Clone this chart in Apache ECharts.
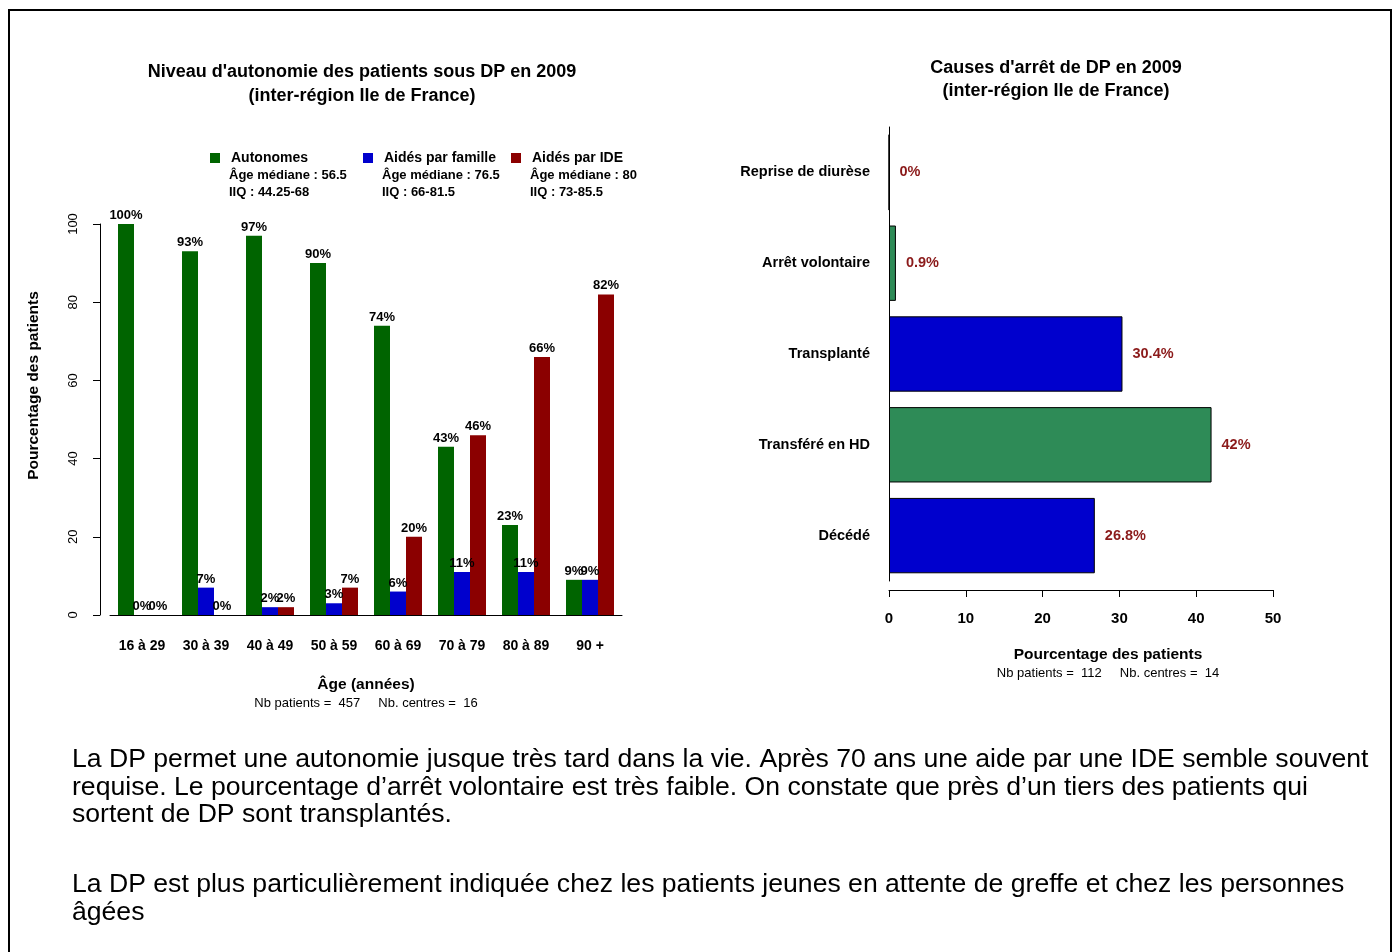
<!DOCTYPE html>
<html>
<head>
<meta charset="utf-8">
<script src="https://cdn.jsdelivr.net/npm/echarts@6/dist/echarts.min.js"></script>
<style>
  html, body { margin: 0; padding: 0; background: #fff; }
  #box { width: 1395px; height: 952px; }
</style>
</head>
<body>
<div id="box"></div>
<script>
// graphique de gauche : niveau d'autonomie par tranche d'age
var ages = ['16 à 29', '30 à 39', '40 à 49', '50 à 59', '60 à 69', '70 à 79', '80 à 89', '90 +'];
var autonomes = [100, 93, 97, 90, 74, 43, 23, 9];
var aidesFamille = [0, 7, 2, 3, 6, 11, 11, 9];
var aidesIDE = [0, 0, 2, 7, 20, 46, 66, 82];
var groupes = ['Autonomes', 'Aidés par famille', 'Aidés par IDE'];
var medianes = ['Âge médiane : 56.5', 'Âge médiane : 76.5', 'Âge médiane : 80'];
var iiq = ['IIQ : 44.25-68', 'IIQ : 66-81.5', 'IIQ : 73-85.5'];
var yTicksGauche = [0, 20, 40, 60, 80, 100];

// graphique de droite : causes d'arret (du bas vers le haut)
var causes = ['Décédé', 'Transféré en HD', 'Transplanté', 'Arrêt volontaire', 'Reprise de diurèse'];
var causesPct = [26.8, 42, 30.4, 0.9, 0];
var causesCouleurs = ['#0000CD', '#2E8B57', '#0000CD', '#2E8B57', '#0000CD'];
var xTicksDroite = [0, 10, 20, 30, 40, 50];

var texte1 = 'La DP permet une autonomie jusque très tard dans la vie. Après 70 ans une aide par une IDE semble souvent\n' +
    'requise. Le pourcentage d\u2019arrêt volontaire est très faible. On constate que près d\u2019un tiers des patients qui\n' +
    'sortent de DP sont transplantés.';
var texte2 = 'La DP est plus particulièrement indiquée chez les patients jeunes en attente de greffe et chez les personnes\n' +
    'âgées';

var couleurs = ['#006400', '#0000CD', '#8B0000'];
var police = '"Liberation Sans", Arial, Helvetica, sans-serif';

var myChart = echarts.init(document.getElementById('box'));

var legendes = [];
var sousLegendes = [];
var legendeX = [210, 363, 511];
groupes.forEach(function (g, i) {
    legendes.push({
        data: [g],
        left: legendeX[i],
        top: 151,
        padding: 0,
        icon: 'rect',
        itemWidth: 10,
        itemHeight: 10,
        textStyle: { fontFamily: police, fontWeight: 'bold', fontSize: 14, color: '#000', padding: [0, 0, 0, 6] },
        selectedMode: false
    });
    sousLegendes.push({
        text: medianes[i] + '\n' + iiq[i],
        left: legendeX[i] + 19,
        top: 167,
        padding: 0,
        textStyle: { fontFamily: police, fontWeight: 'bold', fontSize: 13, lineHeight: 17, color: '#000' }
    });
});

var labelBarre = {
    show: true,
    position: 'top',
    distance: 2,
    formatter: '{c}%',
    fontFamily: police,
    fontWeight: 'bold',
    fontSize: 13,
    color: '#000'
};

myChart.setOption({
    backgroundColor: '#fff',
    animation: false,
    color: couleurs,
    textStyle: { fontFamily: police },
    title: [{
            text: "Niveau d'autonomie des patients sous DP en 2009\n(inter-région Ile de France)",
            left: 362,
            top: 60,
            padding: 0,
            textAlign: 'center',
            textStyle: { fontFamily: police, fontWeight: 'bold', fontSize: 18, lineHeight: 24, color: '#000' }
        },
        {
            text: "Causes d'arrêt de DP en 2009\n(inter-région Ile de France)",
            left: 1056,
            top: 57,
            padding: 0,
            textAlign: 'center',
            textStyle: { fontFamily: police, fontWeight: 'bold', fontSize: 18, lineHeight: 23, color: '#000' }
        },
        {
            text: 'Nb patients =  457     Nb. centres =  16',
            left: 366,
            top: 697,
            padding: 0,
            textAlign: 'center',
            textStyle: { fontFamily: police, fontWeight: 'normal', fontSize: 13, color: '#000' }
        },
        {
            text: 'Pourcentage des patients',
            left: 1108,
            top: 647,
            padding: 0,
            textAlign: 'center',
            textStyle: { fontFamily: police, fontWeight: 'bold', fontSize: 15.5, color: '#000' }
        },
        {
            text: 'Nb patients =  112     Nb. centres =  14',
            left: 1108,
            top: 667,
            padding: 0,
            textAlign: 'center',
            textStyle: { fontFamily: police, fontWeight: 'normal', fontSize: 13, color: '#000' }
        },
        {
            text: texte1,
            left: 72,
            top: 746,
            padding: 0,
            textStyle: { fontFamily: police, fontWeight: 'normal', fontSize: 26.6, lineHeight: 27.5, color: '#000' }
        },
        {
            text: texte2,
            left: 72,
            top: 871,
            padding: 0,
            textStyle: { fontFamily: police, fontWeight: 'normal', fontSize: 26.6, lineHeight: 27.5, color: '#000' }
        }
    ].concat(sousLegendes),
    legend: legendes,
    grid: [
        { left: 110, top: 224, width: 512, height: 391, containLabel: false },
        { left: 889, top: 127, width: 384, height: 454, containLabel: false }
    ],
    xAxis: [{
            gridIndex: 0,
            type: 'category',
            data: ages,
            axisLine: { show: true, lineStyle: { color: '#000', width: 1 } },
            axisTick: { show: false },
            axisLabel: { margin: 24, fontFamily: police, fontWeight: 'bold', fontSize: 14, color: '#000' },
            name: 'Âge (années)',
            nameLocation: 'middle',
            nameGap: 62,
            nameTextStyle: { fontFamily: police, fontWeight: 'bold', fontSize: 15.5, color: '#000' }
        },
        {
            gridIndex: 1,
            type: 'value',
            min: 0,
            max: 50,
            interval: 10,
            offset: 9,
            axisLine: { show: true, lineStyle: { color: '#000', width: 1 } },
            axisTick: { show: true, length: 7, lineStyle: { color: '#000' } },
            axisLabel: { margin: 21, fontFamily: police, fontWeight: 'bold', fontSize: 15, color: '#000' },
            splitLine: { show: false }
        }
    ],
    yAxis: [{
            gridIndex: 0,
            type: 'value',
            min: yTicksGauche[0],
            max: yTicksGauche[yTicksGauche.length - 1],
            interval: 20,
            offset: 10,
            axisLine: { show: true, lineStyle: { color: '#000', width: 1 } },
            axisTick: { show: true, length: 7, lineStyle: { color: '#000' } },
            axisLabel: { rotate: 90, margin: 20, fontFamily: police, fontSize: 13, color: '#000' },
            splitLine: { show: false },
            name: 'Pourcentage des patients',
            nameLocation: 'middle',
            nameGap: 58,
            nameRotate: 90,
            nameTextStyle: { fontFamily: police, fontWeight: 'bold', fontSize: 15.5, color: '#000', padding: [0, 0, 0, 68] }
        },
        {
            gridIndex: 1,
            type: 'category',
            data: causes,
            axisLine: { show: true, lineStyle: { color: '#000', width: 1 } },
            axisTick: { show: false },
            axisLabel: { margin: 19, fontFamily: police, fontWeight: 'bold', fontSize: 14.5, color: '#000' }
        }
    ],
    series: [{
            name: groupes[0],
            type: 'bar',
            xAxisIndex: 0,
            yAxisIndex: 0,
            barGap: '0%',
            barCategoryGap: '25%',
            data: autonomes,
            label: labelBarre
        },
        {
            name: groupes[1],
            type: 'bar',
            xAxisIndex: 0,
            yAxisIndex: 0,
            barGap: '0%',
            barCategoryGap: '25%',
            data: aidesFamille,
            label: labelBarre
        },
        {
            name: groupes[2],
            type: 'bar',
            xAxisIndex: 0,
            yAxisIndex: 0,
            barGap: '0%',
            barCategoryGap: '25%',
            data: aidesIDE,
            label: labelBarre
        },
        {
            name: 'Causes',
            type: 'bar',
            xAxisIndex: 1,
            yAxisIndex: 1,
            barCategoryGap: '17%',
            data: causesPct.map(function (v, i) {
                return { value: v, itemStyle: { color: causesCouleurs[i] } };
            }),
            itemStyle: { borderColor: '#000', borderWidth: 1 },
            label: {
                show: true,
                position: 'right',
                distance: 10,
                formatter: '{c}%',
                fontFamily: police,
                fontWeight: 'bold',
                fontSize: 14.5,
                color: '#8B1A1A'
            }
        }
    ],
    graphic: [{
        type: 'rect',
        shape: { x: 9, y: 10, width: 1382, height: 960 },
        style: { fill: 'none', stroke: '#000', lineWidth: 2 },
        silent: true
    }]
});

window.addEventListener('resize', function () {
    myChart.resize();
});
</script>
</body>
</html>
